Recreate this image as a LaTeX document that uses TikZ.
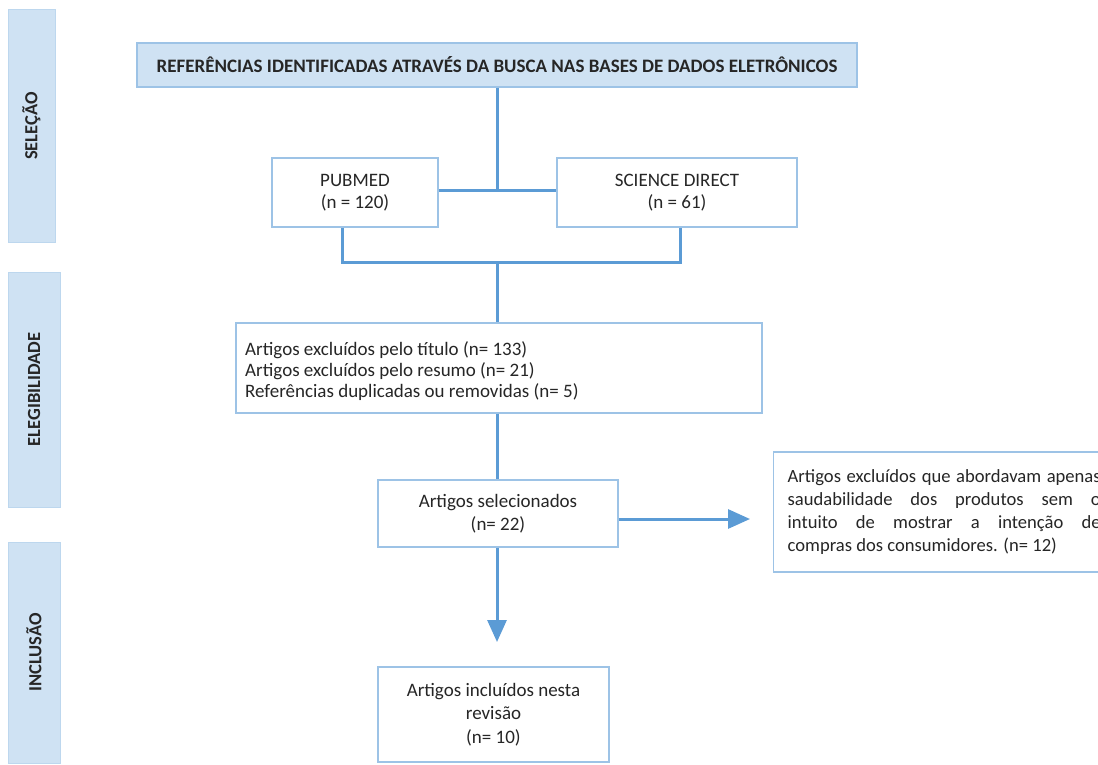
\documentclass[tikz,border=0pt]{standalone}
\usepackage{fontspec}
\setmainfont{Carlito}
\usetikzlibrary{arrows.meta}
\definecolor{barfill}{RGB}{207,226,243}
\definecolor{barline}{RGB}{189,215,238}
\definecolor{boxline}{RGB}{157,195,230}
\definecolor{conn}{RGB}{91,155,213}
\definecolor{txt}{RGB}{38,38,38}
\begin{document}
\begin{tikzpicture}[x=1pt,y=-1pt,
  every node/.style={font=\fontsize{19}{22.5}\selectfont, text=txt},
  bar/.style={draw=barline, fill=barfill, line width=1pt, rotate=90, inner sep=0pt,
    font=\fontsize{18.5}{22.5}\selectfont\bfseries},
  box/.style={draw=boxline, fill=white, line width=1.4pt, inner sep=0pt, align=center},
  conn/.style={draw=conn, line width=3pt},
  arr/.style={conn, -{Triangle[length=22pt,width=19pt]}}
]
\useasboundingbox (0,0) rectangle (1098,765);
\clip (0,0) rectangle (1098,765);
\fill[white] (0,0) rectangle (1098,765);

% side bars
\node[bar, minimum width=232pt, minimum height=47pt] (bsel) at (31.5,126) {SELEÇÃO};
\node[bar, minimum width=235pt, minimum height=52pt] (beleg) at (34,389.5) {ELEGIBILIDADE};
\node[bar, minimum width=221pt, minimum height=52pt] (bincl) at (34,652.5) {INCLUSÃO};

% boxes
\node[box, fill=barfill, minimum width=720pt, minimum height=44pt,
  font=\fontsize{19}{22}\selectfont\bfseries] (top) at (497,65)
  {REFERÊNCIAS IDENTIFICADAS ATRAVÉS DA BUSCA NAS BASES DE DADOS ELETRÔNICOS};
\node[box, minimum width=166pt, minimum height=69pt] (pub) at (355,192.5) {PUBMED\\(n = 120)};
\node[box, minimum width=240pt, minimum height=69pt] (sd) at (677,192.5) {SCIENCE DIRECT\\(n = 61)};
\node[box, minimum width=526pt, minimum height=90pt] (excl) at (499,368) {};
\node[anchor=west, align=left, inner sep=0pt, font=\fontsize{19}{21}\selectfont] (exclt) at (245,371)
  {Artigos excluídos pelo título (n= 133)\\Artigos excluídos pelo resumo (n= 21)\\Referências duplicadas ou removidas (n= 5)};
\node[box, minimum width=240pt, minimum height=67pt] (sel) at (498,513.5) {Artigos selecionados\\(n= 22)};
\node[box, anchor=west, minimum height=120pt, text width=313pt, align=justify, inner xsep=14pt,
  font=\fontsize{18.6}{23.3}\selectfont] (exc2) at (773,512)
  {Artigos excluídos que abordavam apenas\linebreak saudabilidade dos produtos sem o\linebreak intuito de mostrar a intenção de\linebreak compras dos consumidores. (n= 12)};
\node[box, minimum width=231pt, minimum height=95pt, font=\fontsize{19}{23.5}\selectfont] (fin) at (493.5,714.5) {Artigos incluídos nesta\\revisão\\(n= 10)};

% connectors
\coordinate (j1) at (497,190);
\coordinate (pl) at (342,262);
\coordinate (pr) at (680,262);
\coordinate (j2) at (497,262);
\coordinate (tipR) at (750,519);
\coordinate (tipD) at (497,642);
\draw[conn] (top.south -| j1) -- (j1);
\draw[conn] (pub.east |- j1) -- (sd.west |- j1);
\draw[conn] (pub.south -| pl) -- (pl) -- (pr) -- (sd.south -| pr);
\draw[conn] (j2) -- (excl.north -| j2);
\draw[conn] (excl.south -| j2) -- (sel.north -| j2);
\draw[arr] (sel.east |- tipR) -- (tipR);
\draw[arr] (sel.south -| tipD) -- (tipD);
\end{tikzpicture}
\end{document}
